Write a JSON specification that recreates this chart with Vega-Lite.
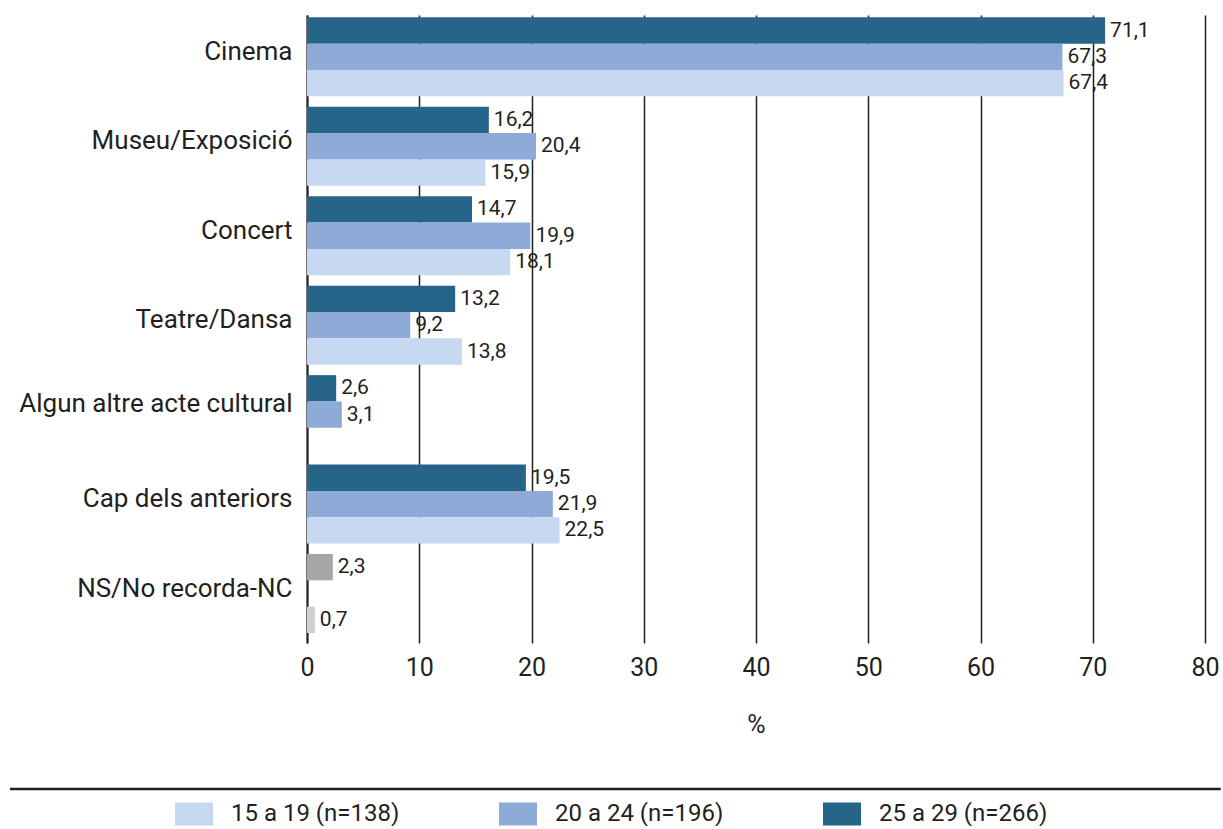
{
  "$schema": "https://vega.github.io/schema/vega-lite/v6.json",
  "padding": {"left": 8, "top": 15, "right": 0, "bottom": 0},
  "bounds": "flush",
  "spacing": 145,
  "config": {
    "locale": {"number": {"decimal": ",", "thousands": ".", "grouping": [3], "currency": ["", " €"]}},
    "font": "Roboto",
    "view": {"stroke": null}
  },
  "resolve": {"scale": {"x": "independent"}},
  "vconcat": [
    {
      "width": 898,
      "height": 628,
      "data": {
        "values": [
          {"cat": "Cinema", "slot": "25 a 29", "group": "25 a 29 (n=266)", "value": 71.1},
          {"cat": "Cinema", "slot": "20 a 24", "group": "20 a 24 (n=196)", "value": 67.3},
          {"cat": "Cinema", "slot": "15 a 19", "group": "15 a 19 (n=138)", "value": 67.4},
          {"cat": "Museu/Exposició", "slot": "25 a 29", "group": "25 a 29 (n=266)", "value": 16.2},
          {"cat": "Museu/Exposició", "slot": "20 a 24", "group": "20 a 24 (n=196)", "value": 20.4},
          {"cat": "Museu/Exposició", "slot": "15 a 19", "group": "15 a 19 (n=138)", "value": 15.9},
          {"cat": "Concert", "slot": "25 a 29", "group": "25 a 29 (n=266)", "value": 14.7},
          {"cat": "Concert", "slot": "20 a 24", "group": "20 a 24 (n=196)", "value": 19.9},
          {"cat": "Concert", "slot": "15 a 19", "group": "15 a 19 (n=138)", "value": 18.1},
          {"cat": "Teatre/Dansa", "slot": "25 a 29", "group": "25 a 29 (n=266)", "value": 13.2},
          {"cat": "Teatre/Dansa", "slot": "20 a 24", "group": "20 a 24 (n=196)", "value": 9.2},
          {"cat": "Teatre/Dansa", "slot": "15 a 19", "group": "15 a 19 (n=138)", "value": 13.8},
          {"cat": "Algun altre acte cultural", "slot": "25 a 29", "group": "25 a 29 (n=266)", "value": 2.6},
          {"cat": "Algun altre acte cultural", "slot": "20 a 24", "group": "20 a 24 (n=196)", "value": 3.1},
          {"cat": "Cap dels anteriors", "slot": "25 a 29", "group": "25 a 29 (n=266)", "value": 19.5},
          {"cat": "Cap dels anteriors", "slot": "20 a 24", "group": "20 a 24 (n=196)", "value": 21.9},
          {"cat": "Cap dels anteriors", "slot": "15 a 19", "group": "15 a 19 (n=138)", "value": 22.5},
          {"cat": "NS/No recorda-NC", "slot": "25 a 29", "group": "NS/NC (1)", "value": 2.3},
          {"cat": "NS/No recorda-NC", "slot": "15 a 19", "group": "NS/NC (2)", "value": 0.7}
        ]
      },
      "encoding": {
        "y": {
          "field": "cat",
          "type": "nominal",
          "sort": ["Cinema", "Museu/Exposició", "Concert", "Teatre/Dansa", "Algun altre acte cultural", "Cap dels anteriors", "NS/No recorda-NC"],
          "scale": {"paddingInner": 0.117, "paddingOuter": 0.069, "align": 0.19},
          "axis": {
            "title": null,
            "domain": true,
            "domainColor": "#231f20",
            "domainWidth": 2,
            "ticks": false,
            "grid": false,
            "labelFontSize": 26,
            "labelColor": "#231f20",
            "labelPadding": 15,
            "labelLimit": 400,
            "labelOffset": {"condition": {"test": "datum.value == 'Algun altre acte cultural'", "value": -11}, "value": -5}
          }
        },
        "yOffset": {
          "field": "slot",
          "type": "nominal",
          "sort": ["25 a 29", "20 a 24", "15 a 19"],
          "scale": {"paddingInner": 0, "paddingOuter": 0}
        },
        "x": {
          "field": "value",
          "type": "quantitative",
          "scale": {"domain": [0, 80], "nice": false},
          "axis": {
            "title": "%",
            "titleFontSize": 25,
            "titleFontWeight": "normal",
            "titleColor": "#231f20",
            "titlePadding": 32,
            "labelFontSize": 25,
            "labelColor": "#231f20",
            "labelPadding": 12,
            "labelFlush": false,
            "tickCount": 8,
            "ticks": false,
            "domain": false,
            "grid": true,
            "gridColor": "#231f20",
            "gridWidth": 1.5
          }
        }
      },
      "layer": [
        {
          "mark": {"type": "bar"},
          "encoding": {
            "color": {
              "field": "group",
              "type": "nominal",
              "scale": {
                "domain": ["15 a 19 (n=138)", "20 a 24 (n=196)", "25 a 29 (n=266)", "NS/NC (1)", "NS/NC (2)"],
                "range": ["#c6d9f0", "#8eabd7", "#27648a", "#a6a6a8", "#d0d0d2"]
              },
              "legend": {
                "title": null,
                "values": ["15 a 19 (n=138)", "20 a 24 (n=196)", "25 a 29 (n=266)"],
                "orient": "none",
                "legendX": -132,
                "legendY": 780,
                "direction": "horizontal",
                "symbolType": "M-1,-0.6H1V0.6H-1Z",
                "symbolSize": 1444,
                "symbolStrokeWidth": 0,
                "symbolOpacity": 1,
                "labelFontSize": 24,
                "labelColor": "#231f20",
                "labelOffset": 18,
                "labelLimit": 400,
                "columnPadding": 99,
                "padding": 0
              }
            }
          }
        },
        {
          "mark": {"type": "text", "align": "left", "baseline": "middle", "dx": 5, "fontSize": 21, "color": "#231f20"},
          "encoding": {
            "text": {"field": "value", "type": "quantitative", "format": ".1f"}
          }
        }
      ]
    },
    {
      "width": 898,
      "height": 2,
      "data": {"values": [{"from": -26.46, "to": 81.4}]},
      "mark": {"type": "rule", "clip": false, "strokeWidth": 2.5, "color": "#231f20"},
      "encoding": {
        "x": {"field": "from", "type": "quantitative", "scale": {"domain": [0, 80], "nice": false, "zero": false}, "axis": null},
        "x2": {"field": "to"}
      }
    }
  ]
}
